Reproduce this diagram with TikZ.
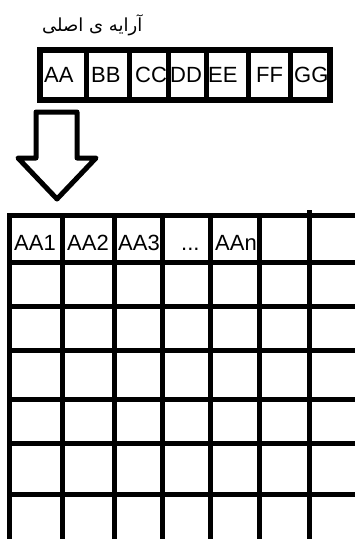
\documentclass[tikz,border=0pt]{standalone}
\usepackage{fontspec}
\setmainfont{Liberation Sans}
\newfontfamily\arabicfont[Script=Arabic]{DejaVu Sans}
\TeXXeTstate=1
\tikzset{
  celltext/.style={anchor=base west, inner sep=0pt, font=\fontsize{22}{22}\selectfont},
  gridtext/.style={anchor=base west, inner sep=0pt, font=\fontsize{22}{22}\selectfont},
  blockarrow/.style={line width=5pt, line join=round, fill=white}
}
\begin{document}
\begin{tikzpicture}[x=1pt, y=-1pt]
\useasboundingbox (0,0) rectangle (355,539);
\fill[white] (0,0) rectangle (355,539);
% title
\node[anchor=base west, inner sep=0pt, font=\fontsize{18}{18}\arabicfont] (title) at (42,31) {\beginR آرایه ی اصلی\endR};
% top array texts
\node[celltext] (aa) at (44,82) {AA};
\node[celltext] (bb) at (91,82) {BB};
\node[celltext] (cc) at (135,82) {CC};
\node[celltext] (dd) at (170,82) {DD};
\node[celltext] (ee) at (208,82) {EE};
\node[celltext] (ff) at (256,82) {FF};
\node[celltext] (gg) at (294,82) {GG};
% top array frame
\draw[line width=5.5pt] (40,50) rectangle (330,100);
\foreach \x in {86,129.5,168,206,248,290} {
  \draw[line width=5pt] (\x,50) -- (\x,100);
}
% block arrow
\draw[blockarrow] (36,112) -- (77,112) -- (77,158) -- (96,158) -- (57,199) -- (18,158) -- (36,158) -- cycle;
% grid texts
\node[gridtext] (g1) at (14,250) {AA1};
\node[gridtext] (g2) at (67,250) {AA2};
\node[gridtext] (g3) at (118,250) {AA3};
\node[gridtext] (g4) at (181,250) {...};
\node[gridtext] (g5) at (215,250) {AAn};
% grid lines
\foreach \y in {215.5,262,306.5,350,399,443,494.5} {
  \draw[line width=5pt] (7,\y) -- (356,\y);
}
\foreach \x in {9.5,62,114,162.5,210.5,259.5} {
  \draw[line width=5pt] (\x,213) -- (\x,540);
}
\draw[line width=5pt] (309.5,210) -- (309.5,540);
\end{tikzpicture}
\end{document}
